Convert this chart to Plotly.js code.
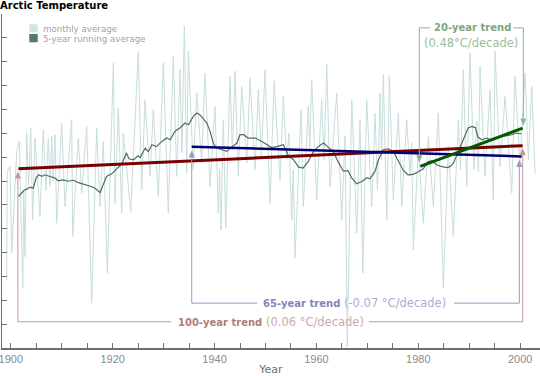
<!DOCTYPE html>
<html>
<head>
<meta charset="utf-8">
<script src="https://cdn.plot.ly/plotly-3.0.1.min.js"></script>
<style>html,body{margin:0;padding:0;background:#fff;}#chart{width:540px;height:376px;}</style>
</head>
<body>
<div id="chart"></div>
<script>
// ---- data ----
const monthYears = [1899.19,1899.31,1899.84,1900.18,1901.16,1901.67,1902.34,1902.55,1902.79,1903.12,1903.5,1903.91,1904.30,1904.75,1905.73,1906.38,1906.9,1907.36,1907.7,1908.03,1908.3,1908.68,1909.01,1909.99,1910.64,1911.96,1912.15,1913.25,1913.92,1914.90,1915.88,1916.87,1917.51,1918.16,1918.95,1920.13,1920.46,1921.11,1921.77,1922.09,1923.54,1925.03,1925.70,1926.35,1927.33,1927.98,1928.96,1929.94,1930.92,1931.91,1932.57,1933.22,1933.6,1934.07,1934.54,1934.85,1935.83,1936.50,1937.48,1938.13,1939.11,1940.09,1940.74,1941.0,1941.27,1941.72,1942.20,1943.04,1943.5,1944.02,1944.67,1945.34,1946.32,1946.97,1947.95,1948.60,1949.2,1949.91,1950.89,1951.7,1952.86,1953.50,1954.17,1954.6,1955.15,1955.45,1955.80,1956.98,1957.43,1958.41,1958.7,1959.08,1960.06,1961.04,1961.5,1962.03,1962.67,1963.99,1964.97,1965.62,1966.07,1966.94,1967.92,1968.56,1969.10,1969.88,1970.86,1971.51,1971.99,1972.50,1972.8,1973.14,1973.81,1974.32,1975.10,1976.09,1976.75,1977.73,1978.4,1978.7,1979.03,1980.01,1981.0,1981.98,1982.96,1983.94,1984.92,1985.90,1986.88,1987.87,1988.3,1988.85,1989.51,1990.16,1990.94,1991.5,1991.8,1992.12,1993.10,1994.09,1994.74,1995.07,1996.05,1997.03,1998.35,1999.00,1999.98,2000.96,2001.61,2002.28,2002.93];
const monthVals = [-5.15,-0.60,-0.39,-4.01,0.24,0.66,-5.48,-1.37,-4.17,1.01,-1.2,1.22,-2.63,0.80,-2.49,1.15,-1.4,0.80,-1.2,0.87,-1.0,0.94,-2.77,1.43,-2.07,1.57,-3.33,0.80,-1.51,1.29,-6.12,1.22,-2.07,0.66,-4.86,3.95,-1.93,2.06,-2.35,1.01,-2.28,4.44,-1.37,2.41,-0.81,1.99,-1.65,3.95,-2.35,4.23,-0.81,3.67,0.2,5.49,-0.67,4.44,-0.53,2.69,-0.25,3.53,-1.23,2.13,-2.35,-0.5,-3.05,1.57,-2.97,3.39,0.3,3.60,-0.81,2.97,-0.25,3.32,-0.53,2.83,0.0,3.67,-1.93,3.2,-0.95,2.55,-0.11,1.0,-2.63,-0.53,-4.23,1.99,-2.07,2.13,0.31,3.25,-1.79,2.41,-0.11,3.88,-1.23,2.69,-2.63,0.87,-7.95,2.41,-3.18,1.57,-4.86,2.41,-2.07,1.85,-1.37,2.69,-0.11,3.46,-2.63,3.39,-1.79,1.85,-2.07,1.57,-0.8,0.6,-3.89,0.31,-2.77,0.87,-2.07,1.85,-5.49,0.45,-3.33,1.57,-0.53,3.67,-1.23,4.37,-0.53,1.5,-0.6,3.81,-0.81,2.83,-1.79,4.44,-0.39,2.55,-1.51,3.39,-0.25,3.53,-0.11,2.97,-0.67];

const avgYears = [1901.5,1902.5,1903.8,1904.4,1905.0,1905.5,1906.1,1906.7,1907.7,1908.7,1909.3,1910.3,1911.3,1912.3,1913.3,1914.2,1915.2,1916.2,1916.9,1917.5,1917.9,1918.8,1919.8,1920.8,1921.8,1922.7,1923.2,1924.1,1925.0,1925.4,1926.4,1927.0,1927.7,1928.6,1929.6,1930.6,1931.3,1932.2,1933.2,1934.2,1934.9,1935.8,1936.5,1937.1,1937.8,1938.5,1939.1,1939.8,1940.4,1941.4,1942.4,1943.4,1944.4,1945.0,1945.7,1946.6,1948.0,1949.3,1950.2,1951.2,1952.2,1953.5,1954.5,1955.5,1956.5,1957.4,1958.4,1959.4,1960.4,1961.4,1962.3,1963.3,1964.3,1965.3,1966.2,1966.9,1967.9,1968.9,1969.9,1970.5,1971.5,1972.2,1973.1,1974.1,1975.1,1976.1,1977.1,1978.0,1979.0,1980.0,1981.0,1981.9,1982.7,1983.6,1984.5,1985.6,1986.2,1986.9,1987.9,1988.5,1989.2,1989.8,1990.5,1991.2,1991.7,1992.5,1993.4,1994.4,1995.4,1996.4,1997.4,1998.4,1999.3,2000.3];
const avgVals = [-1.65,-1.41,-1.26,-1.30,-0.86,-0.74,-0.80,-0.74,-0.81,-0.88,-0.99,-0.95,-1.01,-0.97,-1.07,-1.13,-1.18,-1.26,-1.37,-1.49,-1.28,-0.81,-0.70,-0.49,-0.28,0.17,-0.07,-0.11,0.06,-0.02,0.38,0.23,0.52,0.44,0.65,0.80,0.73,1.08,1.22,1.43,1.36,1.70,1.85,1.78,1.61,1.43,1.09,0.56,0.38,0.31,0.24,0.42,0.59,0.94,0.94,0.80,0.80,0.66,0.54,0.40,0.44,0.52,0.06,-0.11,-0.42,-0.46,-0.18,0.23,0.45,0.59,0.42,0.24,-0.21,-0.59,-0.57,-0.86,-1.12,-1.02,-0.86,-0.91,-0.60,-0.11,0.31,0.35,0.24,-0.18,-0.57,-0.74,-0.72,-0.61,-0.49,-0.19,-0.15,-0.32,-0.39,-0.44,-0.40,-0.25,0.24,0.52,0.87,1.22,1.29,1.24,0.84,0.73,0.80,0.73,0.80,0.87,0.90,0.94,1.01,0.98];

const trend100X = [1901.5, 2000.5], trend100Y = [-0.49, 0.48];
const trend65X  = [1935.5, 2000.3], trend65Y  = [0.44, 0.03];
const trend20X  = [1980.4, 2000.5], trend20Y  = [-0.39, 1.22];

const xTickVals = [1900, 1920, 1940, 1960, 1980, 2000];
const xTickText = ['1900', '1920', '1940', '1960', '1980', '2000'];

const legendLabels = ['monthly average', '5-year running average'];
const titleText = 'Arctic Temperature';
const xTitle = 'Year';

// ---- styling ----
const FONT = 'DejaVu Sans, Verdana, sans-serif';
const TICKFONT = 'Liberation Sans, Arial, sans-serif';
const colMonthly = '#c7dedc';
const colAvg = '#4f6c66';

const traces = [
  {x: monthYears, y: monthVals, type: 'scatter', mode: 'lines', name: legendLabels[0],
   line: {color: colMonthly, width: 1}, hoverinfo: 'skip', showlegend: false},
  {x: avgYears, y: avgVals, type: 'scatter', mode: 'lines', name: legendLabels[1],
   line: {color: colAvg, width: 1.2}, hoverinfo: 'skip', showlegend: false},
  {x: trend100X, y: trend100Y, type: 'scatter', mode: 'lines', line: {color: '#770000', width: 3}, showlegend: false},
  {x: trend65X, y: trend65Y, type: 'scatter', mode: 'lines', line: {color: '#000070', width: 2.5}, showlegend: false},
  {x: trend20X, y: trend20Y, type: 'scatter', mode: 'lines', line: {color: '#005a00', width: 3}, showlegend: false}
];

// bracket helpers (annotation furniture)
const shapes = [];
function seg(x0, y0, x1, y1, c) {
  shapes.push({type: 'line', xref: 'x', yref: 'y', x0, y0, x1, y1, line: {color: c, width: 1}});
}
function arrow(x, tip, dir, c) { // dir=+1 points up, -1 points down
  const h = 0.30 * dir, w = 0.6;
  shapes.push({type: 'path', xref: 'x', yref: 'y',
    path: `M ${x} ${tip} L ${x - w} ${tip - h} L ${x + w} ${tip - h} Z`,
    fillcolor: c, line: {color: c, width: 0}});
  return tip - h;
}
// 100-year bracket
(function () {
  const c = '#c49595', yb = -6.90, xl = 1901.39, xr = 2000.51;
  seg(xl, yb, 1931.5, yb, c); seg(1970.3, yb, xr, yb, c);
  seg(xl, yb, xl, arrow(xl, -0.60, 1, c), c);
  seg(xr, yb, xr, arrow(xr, 0.38, 1, c), c);
})();
// 65-year bracket
(function () {
  const c = '#9a98c6', yb = -6.12, xl = 1935.52, xr = 1999.84;
  seg(xl, yb, 1948.4, yb, c); seg(1987.0, yb, xr, yb, c);
  seg(xl, yb, xl, arrow(xl, 0.28, 1, c), c);
  seg(xr, yb, xr, arrow(xr, -0.11, 1, c), c);
})();
// 20-year bracket
(function () {
  const c = '#8db58d', yb = 5.42, xl = 1980.21, xr = 2000.63;
  seg(xl, yb, 1982.3, yb, c); seg(1998.67, yb, xr, yb, c);
  seg(xl, yb, xl, arrow(xl, -0.22, -1, c), c);
  seg(xr, yb, xr, arrow(xr, 1.32, -1, c), c);
})();
// legend swatches
shapes.push({type: 'rect', xref: 'paper', yref: 'paper', x0: 0.0507, x1: 0.0664, y0: 0.9452, y1: 0.9692,
  fillcolor: '#d3e4e2', line: {width: 0}});
shapes.push({type: 'rect', xref: 'paper', yref: 'paper', x0: 0.0507, x1: 0.0664, y0: 0.9153, y1: 0.9401,
  fillcolor: '#5a7872', line: {width: 0}});

const annotations = [
  {xref: 'paper', yref: 'paper', x: 0.0719, y: 0.9542, xanchor: 'left', yanchor: 'middle', showarrow: false,
   text: legendLabels[0], font: {family: FONT, size: 8.7, color: '#a3a3a3'}},
  {xref: 'paper', yref: 'paper', x: 0.0719, y: 0.9251, xanchor: 'left', yanchor: 'middle', showarrow: false,
   text: legendLabels[1], font: {family: FONT, size: 8.7, color: '#a3a3a3'}},
  {xref: 'x', yref: 'y', x: 1950.99, y: -6.90, xanchor: 'center', yanchor: 'middle', showarrow: false,
   text: '<span style="font-size:10px;font-weight:bold;color:#b37c7c">100-year trend</span> (0.06 °C/decade)',
   font: {family: FONT, size: 11.5, color: '#d0a9a9'}},
  {xref: 'x', yref: 'y', x: 1967.4, y: -6.12, xanchor: 'center', yanchor: 'middle', showarrow: false,
   text: '<span style="font-size:10px;font-weight:bold;color:#8583bb">65-year trend</span> (-0.07 °C/decade)',
   font: {family: FONT, size: 11.5, color: '#aeacd3'}},
  {xref: 'x', yref: 'y', x: 1990.55, y: 5.42, xanchor: 'center', yanchor: 'middle', showarrow: false,
   text: '<b>20-year trend</b>', font: {family: FONT, size: 10, color: '#7ca77c'}},
  {xref: 'x', yref: 'y', x: 1990.36, y: 4.79, xanchor: 'center', yanchor: 'middle', showarrow: false,
   text: '(0.48°C/decade)', font: {family: FONT, size: 11.5, color: '#99bf99'}}
];

const layout = {
  width: 540, height: 376,
  margin: {l: 2, r: 0, t: 14, b: 28, pad: 0},
  paper_bgcolor: '#ffffff', plot_bgcolor: '#ffffff',
  showlegend: false,
  title: {text: '<b>' + titleText + '</b>', x: 0, xref: 'container', xanchor: 'left',
          y: 1 - 5.5 / 376, yref: 'container', yanchor: 'middle',
          font: {family: FONT, size: 10, color: '#000000'}},
  xaxis: {range: [1898.27, 2003.9], showgrid: false, zeroline: false,
          showline: true, linecolor: '#6f6f6f', linewidth: 1.5,
          ticks: 'inside', ticklen: 5, tickwidth: 1, tickcolor: '#6f6f6f',
          tickvals: xTickVals, ticktext: xTickText, ticklabeloverflow: 'allow',
          minor: {dtick: 5, tick0: 1900, ticks: 'inside', ticklen: 5, tickwidth: 1, tickcolor: '#6f6f6f', showgrid: false},
          tickfont: {family: TICKFONT, size: 11, color: '#8a8a8a'},
          title: {text: xTitle, font: {family: FONT, size: 11, color: '#6f6f6f'}, standoff: 8}},
  yaxis: {range: [-8, 6], showgrid: false, zeroline: false,
          showline: true, linecolor: '#6f6f6f', linewidth: 1.5,
          ticks: 'inside', ticklen: 5, tickwidth: 1, tickcolor: '#6f6f6f',
          tick0: -8, dtick: 1, showticklabels: false},
  shapes, annotations
};

Plotly.newPlot('chart', traces, layout, {displayModeBar: false, staticPlot: true});
</script>
</body>
</html>
